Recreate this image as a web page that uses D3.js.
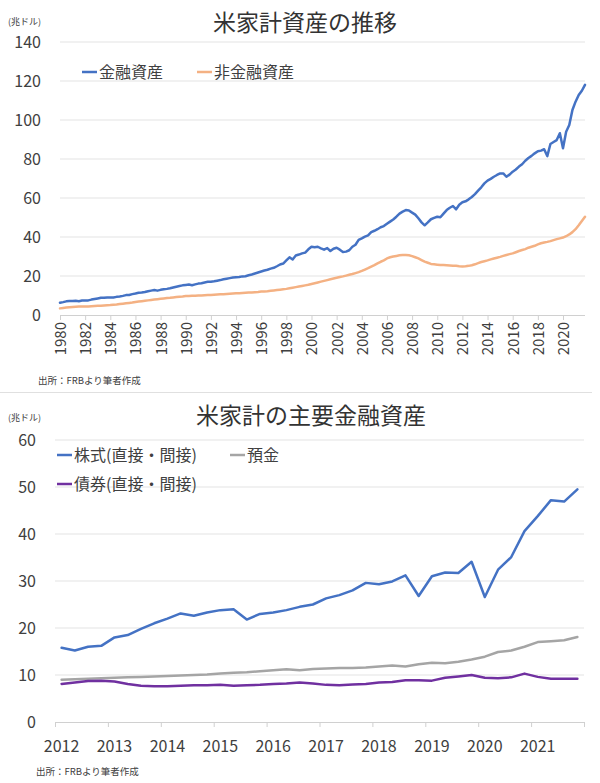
<!DOCTYPE html>
<html><head><meta charset="utf-8">
<script src="https://cdn.jsdelivr.net/npm/d3@7"></script>
<style>
html,body{margin:0;padding:0;background:#fff;}
svg{display:block;font-family:"Noto Sans CJK JP","Noto Sans",sans-serif;}
</style></head>
<body>
<svg id="c" width="600" height="783"></svg>
<script>
// ---------- DATA ----------
const topTitle = "米家計資産の推移";
const bottomTitle = "米家計の主要金融資産";
const unitLabel = "(兆ドル)";
const sourceLabel = "出所：FRBより筆者作成";
const topSeriesNames = ["金融資産", "非金融資産"];
const bottomSeriesNames = ["株式(直接・間接)", "預金", "債券(直接・間接)"];

// quarterly, 1980Q1 .. 2021Q4
const finAssets = [
 6.3,6.6,7.0,7.2, 7.2,7.3,7.1,7.4, 7.5,7.5,7.9,8.2, 8.5,8.8,8.8,9.0,
 9.0,9.0,9.3,9.5, 9.8,10.2,10.3,10.7, 11.0,11.4,11.5,11.8, 12.2,12.5,12.8,12.5,
 12.9,13.2,13.4,13.7, 14.1,14.5,14.9,15.2, 15.4,15.6,15.3,15.7, 16.1,16.3,16.7,17.0,
 17.1,17.3,17.6,17.9, 18.3,18.6,18.9,19.2, 19.4,19.5,19.8,19.9, 20.4,20.8,21.3,21.8,
 22.3,22.8,23.2,23.8, 24.2,25.0,25.9,26.4, 28.0,29.6,28.5,30.5, 31.0,31.6,32.0,33.7,
 35.0,34.8,35.0,34.2, 33.5,34.3,32.8,34.0, 34.5,33.5,32.3,32.5, 33.2,35.0,36.0,38.5,
 39.3,40.2,40.8,42.5, 43.2,44.0,45.0,45.6, 46.8,47.9,49.0,50.4, 52.0,53.0,53.8,53.6,
 52.5,51.5,49.6,47.5, 46.0,47.5,49.1,49.8, 50.4,50.1,52.0,53.8, 55.0,55.9,54.2,56.5,
 57.8,58.3,59.3,60.5, 62.0,63.8,65.5,67.5, 68.9,69.8,70.9,71.8, 72.6,72.6,70.9,72.0,
 73.5,74.6,76.1,77.3, 79.1,80.5,81.6,82.9, 84.0,84.3,85.0,81.5, 87.7,88.7,89.7,93.2,
 85.5,94.0,97.4,105.1, 109.4,112.8,115.0,118.0
];
const nonFinAssets = [
 3.4,3.6,3.8,4.0, 4.1,4.2,4.3,4.3, 4.3,4.4,4.5,4.6, 4.7,4.8,4.9,5.0,
 5.1,5.3,5.4,5.6, 5.8,6.0,6.2,6.4, 6.7,6.9,7.1,7.3, 7.5,7.7,7.9,8.1,
 8.3,8.5,8.7,8.8, 9.0,9.2,9.4,9.5, 9.7,9.8,9.9,9.9, 10.0,10.0,10.1,10.2,
 10.3,10.4,10.5,10.6, 10.7,10.8,10.9,11.0, 11.1,11.2,11.3,11.4, 11.5,11.6,11.7,11.8,
 12.0,12.1,12.2,12.4, 12.6,12.8,13.0,13.2, 13.4,13.7,14.0,14.3, 14.6,14.9,15.2,15.5,
 15.9,16.3,16.7,17.1, 17.5,17.9,18.3,18.7, 19.1,19.5,19.8,20.2, 20.6,21.0,21.5,22.0,
 22.6,23.3,24.0,24.8, 25.6,26.5,27.3,28.0, 29.0,29.6,30.0,30.3, 30.6,30.8,30.8,30.6,
 30.2,29.6,29.0,28.2, 27.4,26.8,26.2,26.0, 25.8,25.6,25.6,25.5, 25.4,25.3,25.2,25.0,
 24.9,25.0,25.2,25.5, 26.0,26.6,27.2,27.6, 28.0,28.5,29.0,29.4, 29.8,30.3,30.8,31.2,
 31.6,32.2,32.8,33.3, 33.8,34.5,35.0,35.5, 36.2,36.8,37.2,37.5, 37.9,38.4,38.9,39.3,
 39.7,40.4,41.3,42.5, 44.0,46.0,48.2,50.4
];
const topTickLabels = ["1980","1982","1984","1986","1988","1990","1992","1994","1996","1998",
 "2000","2002","2004","2006","2008","2010","2012","2014","2016","2018","2020"];
const topYTicks = [0,20,40,60,80,100,120,140];

// quarterly, 2012Q1 .. 2021Q4
const stocks = [
 15.8,15.2,16.0,16.2, 18.0,18.5,19.8,21.0, 22.0,23.1,22.6,23.3, 23.8,24.0,21.8,23.0,
 23.3,23.8,24.5,25.0, 26.3,27.0,28.0,29.6, 29.3,29.9,31.2,26.8, 31.0,31.8,31.7,34.1,
 26.6,32.4,35.1,40.6, 43.8,47.2,46.9,49.5
];
const deposits = [
 9.0,9.1,9.2,9.3, 9.4,9.5,9.6,9.7, 9.8,9.9,10.0,10.1, 10.3,10.5,10.6,10.8,
 11.0,11.2,11.0,11.3, 11.4,11.5,11.5,11.6, 11.8,12.0,11.8,12.3, 12.6,12.5,12.8,13.3,
 13.9,14.9,15.2,16.0, 17.0,17.2,17.4,18.1
];
const bonds = [
 8.1,8.4,8.7,8.8, 8.6,8.1,7.7,7.6, 7.6,7.7,7.8,7.8, 7.9,7.7,7.8,7.9,
 8.1,8.2,8.4,8.2, 7.9,7.8,8.0,8.1, 8.4,8.5,8.9,8.9, 8.8,9.4,9.7,10.0,
 9.4,9.3,9.5,10.3, 9.6,9.2,9.2,9.2
];
const bottomTickLabels = ["2012","2013","2014","2015","2016","2017","2018","2019","2020","2021"];
const bottomYTicks = [0,10,20,30,40,50,60];

const colors = {blue:"#4472C4", orange:"#F4B183", gray:"#A5A5A5", purple:"#7030A0"};
const textColor = "#404040";
const gridColor = "#E3E3E3";
const axisColor = "#D0D0D0";

// ---------- DRAW ----------
const svg = d3.select("#c");

function drawChart(cfg){
  const g = svg.append("g");
  const y = d3.scaleLinear().domain(cfg.yDomain).range([cfg.y0, cfg.y1]);
  const x = cfg.x;
  // gridlines
  g.append("g").selectAll("line").data(cfg.yTicks.filter(d=>d>0)).join("line")
    .attr("x1", cfg.xl).attr("x2", cfg.xr)
    .attr("y1", d=>y(d)).attr("y2", d=>y(d))
    .attr("stroke", gridColor).attr("stroke-width",1);
  // y labels
  g.append("g").selectAll("text").data(cfg.yTicks).join("text")
    .attr("x", cfg.yLabelX).attr("y", d=>y(d)).attr("dy","0.35em")
    .attr("text-anchor","end").attr("fill",textColor)
    .style("font-size", cfg.yFont+"px").text(d=>d);
  // axis
  const ax = d3.axisBottom(x).tickValues(cfg.xTickValues).tickSize(5).tickFormat(cfg.xTickFormat);
  const axG = g.append("g").attr("transform",`translate(0,${cfg.y0})`).call(ax);
  axG.select(".domain").attr("stroke",axisColor).attr("d",`M${cfg.xl},0.5H${cfg.xr}`);
  axG.selectAll(".tick line").attr("stroke",axisColor);
  axG.selectAll(".tick text").attr("fill",textColor).style("font-size",cfg.xFont+"px")
     .style("font-family",'"Noto Sans CJK JP",sans-serif');
  if (cfg.afterAxis) cfg.afterAxis(axG, g);
  // lines
  cfg.series.forEach(s=>{
    const line = d3.line().x((d,i)=>cfg.px(i)).y(d=>y(d));
    g.append("path").datum(s.data).attr("d",line)
      .attr("fill","none").attr("stroke",s.color).attr("stroke-width",s.width||2.5)
      .attr("stroke-linejoin","round").attr("stroke-linecap","round");
  });
  return {g,y};
}

// ----- top chart -----
const xTop = d3.scaleLinear().domain([0, finAssets.length-1]).range([60, 585]);
drawChart({
  x: xTop, px: i=>xTop(i), xl:60, xr:585,
  yDomain:[0,140], y0:315, y1:42, yTicks: topYTicks, yLabelX:41, yFont:16,
  xTickValues: topTickLabels.map((d,i)=>i*8),
  xTickFormat: (d,i)=>topTickLabels[i], xFont:15,
  afterAxis: (axG)=>{
    axG.selectAll(".tick text").attr("transform","rotate(-90)")
      .attr("text-anchor","end").attr("x",-7).attr("y",0).attr("dy","0.36em");
  },
  series:[
    {data: finAssets, color: colors.blue, width:2.5},
    {data: nonFinAssets, color: colors.orange, width:2.5}
  ]
});
svg.append("text").attr("x",8).attr("y",25).attr("fill",textColor)
  .style("font-size","9px").text(unitLabel);
svg.append("text").attr("x",305).attr("y",31).attr("text-anchor","middle")
  .attr("fill","#333").style("font-size","23px").text(topTitle);
// top legend
const topLeg = [{name:topSeriesNames[0], color:colors.blue, x:82},{name:topSeriesNames[1], color:colors.orange, x:197}];
topLeg.forEach(l=>{
  svg.append("line").attr("x1",l.x).attr("x2",l.x+15).attr("y1",72).attr("y2",72)
    .attr("stroke",l.color).attr("stroke-width",2.5);
  svg.append("text").attr("x",l.x+17).attr("y",72).attr("dy","0.35em").attr("fill",textColor)
    .style("font-size","16px").text(l.name);
});
svg.append("text").attr("x",38).attr("y",384).attr("fill",textColor)
  .style("font-size","9.5px").text(sourceLabel);

// separator
svg.append("line").attr("x1",0).attr("x2",592).attr("y1",392.5).attr("y2",392.5)
  .attr("stroke","#E0E0E0").attr("stroke-width",1);

// ----- bottom chart -----
const nQ = stocks.length;
const xBot = d3.scaleLinear().domain([0, nQ]).range([55, 584]);
drawChart({
  x: xBot, px: i=>xBot(i+0.5), xl:55, xr:584,
  yDomain:[0,60], y0:722, y1:440, yTicks: bottomYTicks, yLabelX:36, yFont:16,
  xTickValues: d3.range(0, nQ+1, 4),
  xTickFormat: ()=> "", xFont:16,
  afterAxis: (axG, g)=>{
    g.append("g").selectAll("text").data(bottomTickLabels).join("text")
      .attr("x",(d,i)=>xBot(i*4+0.5)).attr("y",746).attr("dy","0.35em")
      .attr("text-anchor","middle").attr("fill",textColor)
      .style("font-size","16px").text(d=>d);
  },
  series:[
    {data: stocks, color: colors.blue, width:2.5},
    {data: deposits, color: colors.gray, width:2.5},
    {data: bonds, color: colors.purple, width:2.5}
  ]
});
svg.append("text").attr("x",8).attr("y",421).attr("fill",textColor)
  .style("font-size","9px").text(unitLabel);
svg.append("text").attr("x",311).attr("y",424).attr("text-anchor","middle")
  .attr("fill","#333").style("font-size","23px").text(bottomTitle);
const botLeg = [
  {name:bottomSeriesNames[0], color:colors.blue, x:57, y:455},
  {name:bottomSeriesNames[1], color:colors.gray, x:230, y:455},
  {name:bottomSeriesNames[2], color:colors.purple, x:57, y:484}
];
botLeg.forEach(l=>{
  svg.append("line").attr("x1",l.x).attr("x2",l.x+15).attr("y1",l.y).attr("y2",l.y)
    .attr("stroke",l.color).attr("stroke-width",2.5);
  svg.append("text").attr("x",l.x+17).attr("y",l.y).attr("dy","0.35em").attr("fill",textColor)
    .style("font-size","16px").text(l.name);
});
svg.append("text").attr("x",36).attr("y",775).attr("fill",textColor)
  .style("font-size","9.5px").text(sourceLabel);
</script>
</body></html>
